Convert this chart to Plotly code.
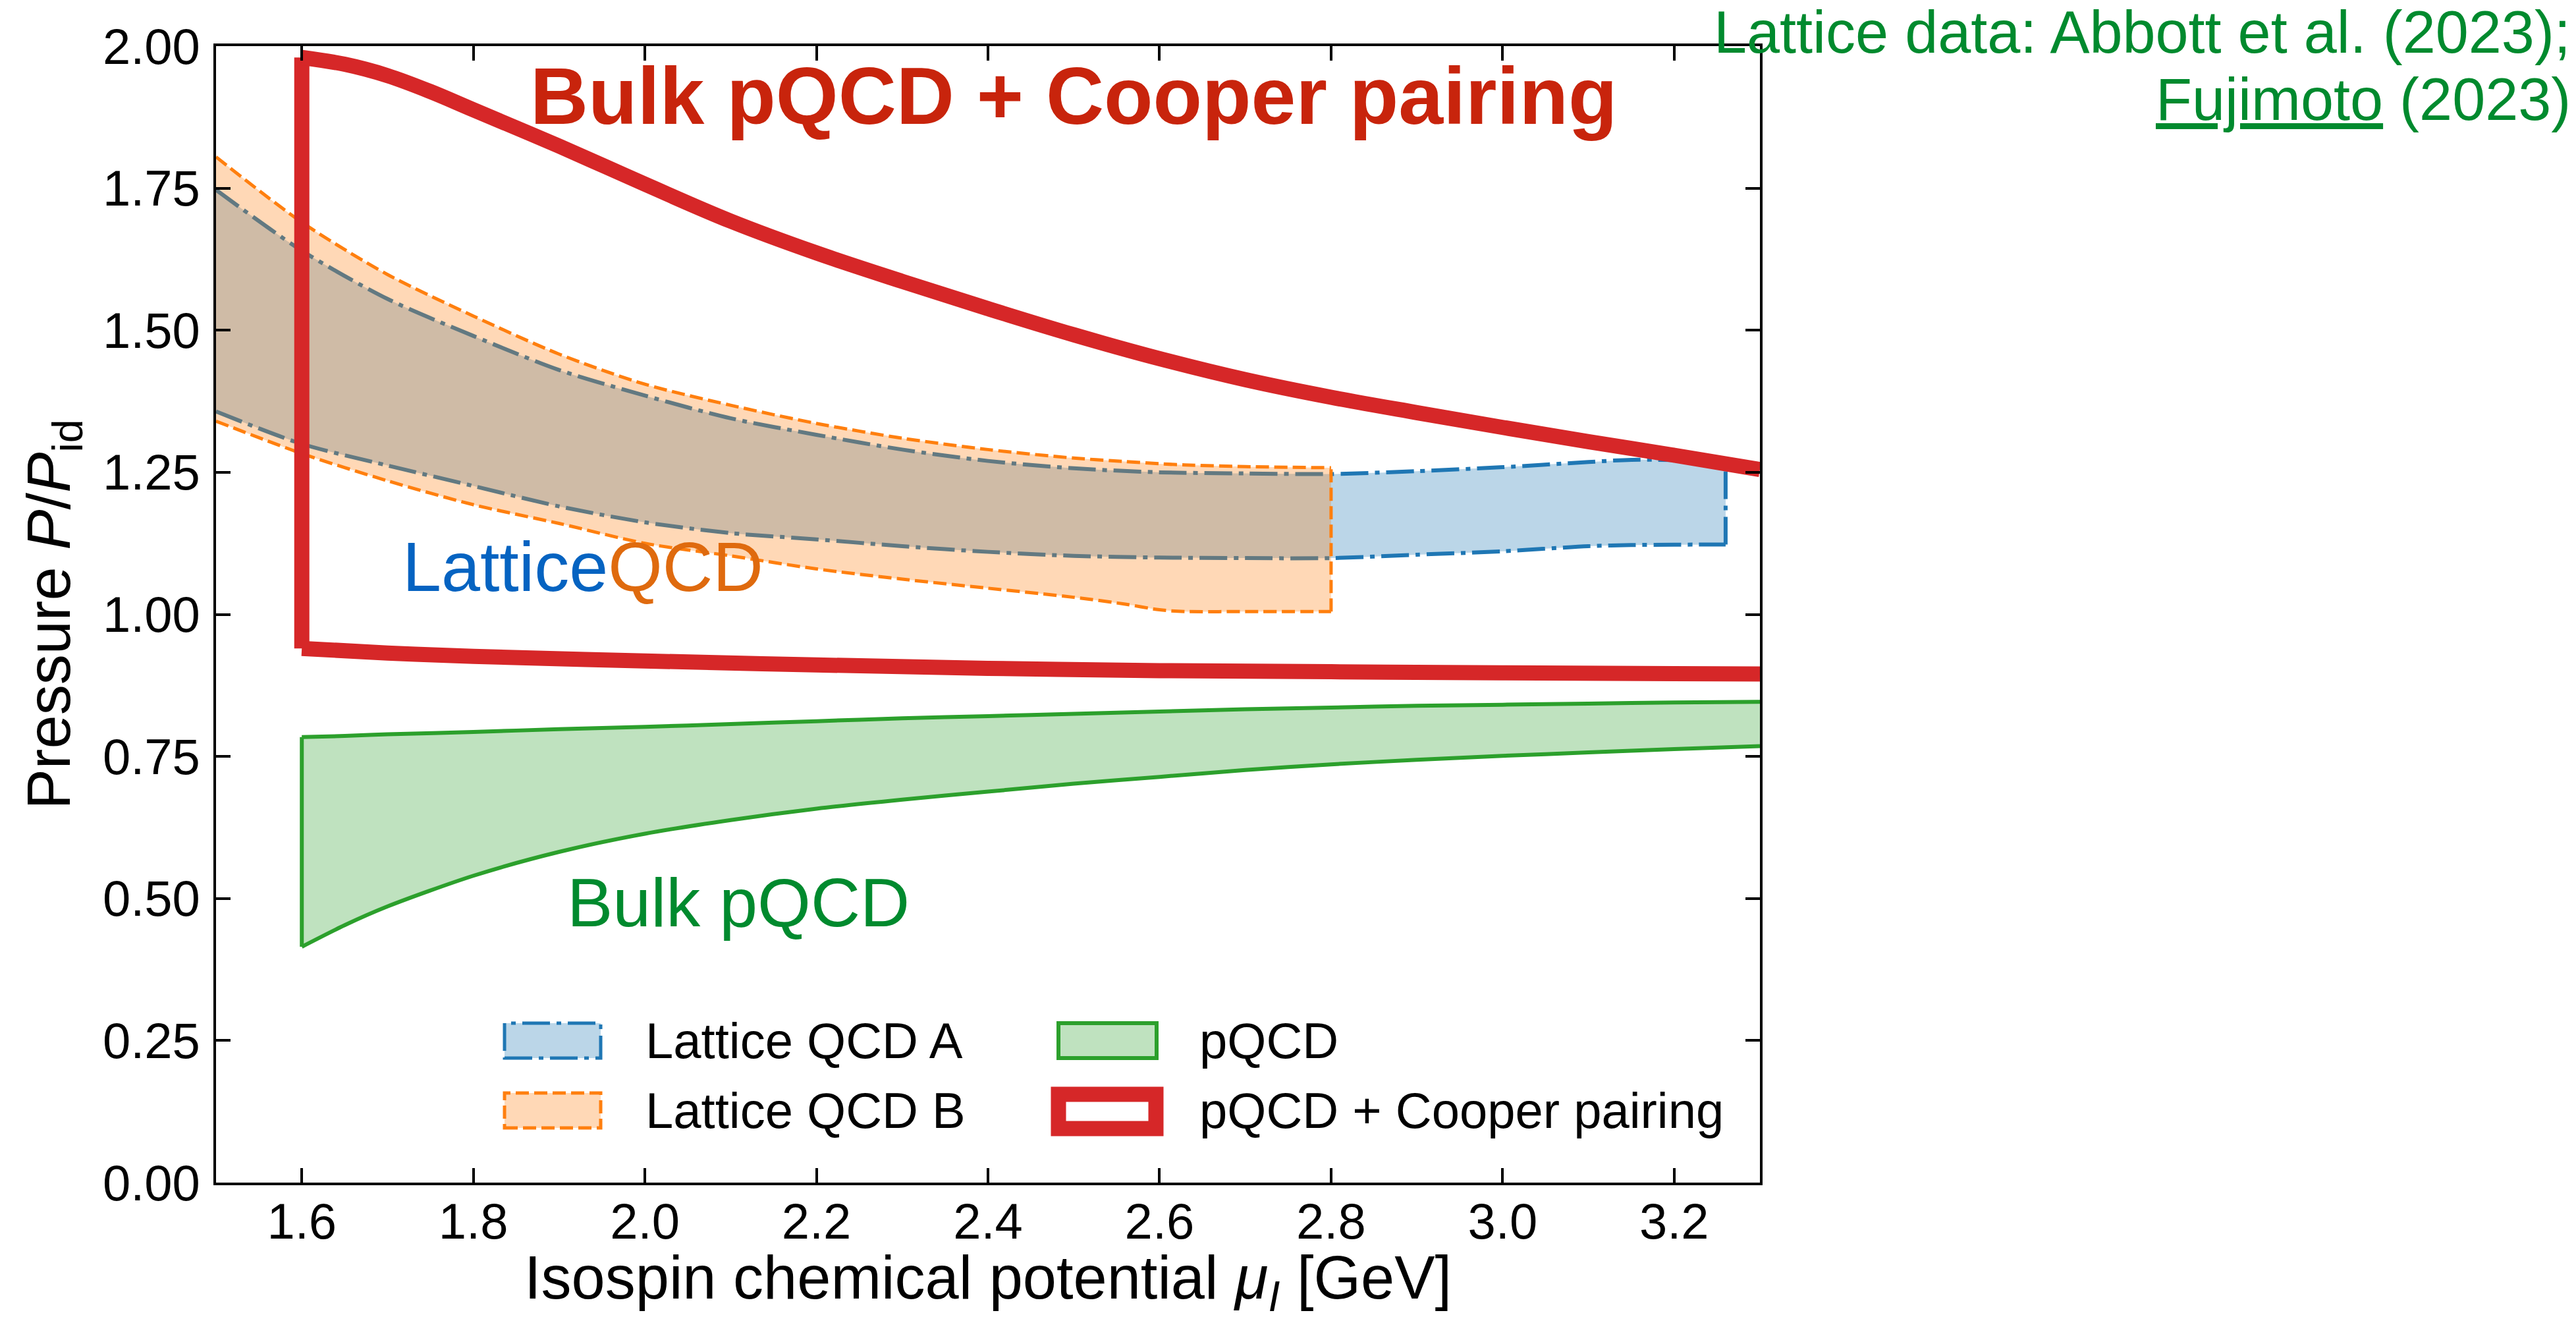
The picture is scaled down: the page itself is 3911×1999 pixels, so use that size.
import plotly.graph_objects as go

# ---------------- data ----------------
lat_a_x = [1.5, 1.6, 1.7, 1.8, 1.9, 2.0, 2.1, 2.2, 2.3, 2.4, 2.5, 2.6, 2.7, 2.8, 2.9, 3.0, 3.1, 3.15, 3.26]
lat_a_upper = [1.747, 1.64, 1.555, 1.49, 1.43, 1.385, 1.345, 1.316, 1.29, 1.27, 1.257, 1.25, 1.248, 1.247,
               1.252, 1.259, 1.268, 1.272, 1.27]
lat_a_lower = [1.357, 1.30, 1.262, 1.226, 1.19, 1.162, 1.143, 1.132, 1.12, 1.11, 1.103, 1.10, 1.099, 1.099,
               1.105, 1.111, 1.12, 1.122, 1.123]

lat_b_x = [1.5, 1.6, 1.7, 1.8, 1.9, 2.0, 2.1, 2.2, 2.3, 2.4, 2.5, 2.56, 2.6, 2.63, 2.7, 2.8]
lat_b_upper = [1.805, 1.69, 1.598, 1.525, 1.458, 1.405, 1.368, 1.336, 1.31, 1.29, 1.275, 1.269, 1.265, 1.263,
               1.26, 1.258]
lat_b_lower = [1.34, 1.283, 1.235, 1.193, 1.16, 1.125, 1.103, 1.08, 1.062, 1.046, 1.03, 1.018, 1.008, 1.005,
               1.005, 1.005]

pqcd_x = [1.6, 1.65, 1.7, 1.8, 1.9, 2.0, 2.1, 2.2, 2.3, 2.4, 2.5, 2.6, 2.7, 2.8, 2.9, 3.0, 3.1, 3.2, 3.3]
pqcd_upper = [0.784, 0.786, 0.789, 0.793, 0.798, 0.802, 0.807, 0.812, 0.817, 0.821, 0.825, 0.829, 0.833, 0.836,
              0.839, 0.841, 0.843, 0.845, 0.846]
pqcd_lower = [0.415, 0.453, 0.486, 0.54, 0.582, 0.614, 0.638, 0.658, 0.674, 0.688, 0.702, 0.714, 0.726, 0.736,
              0.744, 0.751, 0.757, 0.763, 0.768]

cp_top_x = [1.6, 1.65, 1.7, 1.75, 1.8, 1.9, 2.0, 2.1, 2.2, 2.3, 2.4, 2.5, 2.6, 2.7, 2.8, 2.9, 3.0, 3.1, 3.2, 3.3]
cp_top = [1.98, 1.968, 1.948, 1.92, 1.888, 1.824, 1.757, 1.692, 1.636, 1.586, 1.538, 1.492, 1.45, 1.413, 1.382,
          1.355, 1.329, 1.304, 1.28, 1.255]
cp_bot_x = [1.6, 1.7, 1.8, 2.0, 2.2, 2.4, 2.6, 2.8, 3.0, 3.3]
cp_bot = [0.940, 0.932, 0.926, 0.918, 0.911, 0.905, 0.901, 0.899, 0.897, 0.895]

x_ticks = [1.6, 1.8, 2.0, 2.2, 2.4, 2.6, 2.8, 3.0, 3.2]
y_ticks = [0.0, 0.25, 0.5, 0.75, 1.0, 1.25, 1.5, 1.75, 2.0]

# ---------------- layout geometry ----------------
W, H = 3911, 1999
ML, MR, MT, MB = 328, 1239, 70, 204
PW = W - ML - MR
PH = H - MT - MB
FONT = "Liberation Sans, Arial, sans-serif"


def pxx(px):
    return (px - ML) / PW


def pxy(py):
    return (H - MB - py) / PH


BLUE = "#1f77b4"
ORANGE = "#ff7f0e"
GREEN = "#2ca02c"
RED = "#d62728"
DASHDOT = "42px,10px,7px,10px"
DASHED = "20px,8px"

fig = go.Figure()


def add_band(xs, up, lo, color, fill, width, dash, right_edge=False, left_edge=False):
    line = dict(color=color, width=width, dash=dash, shape="spline", smoothing=0.8)
    fig.add_trace(go.Scatter(x=xs, y=lo, mode="lines", line=line, showlegend=False, hoverinfo="skip"))
    fig.add_trace(go.Scatter(x=xs, y=up, mode="lines", line=line, fill="tonexty", fillcolor=fill,
                             showlegend=False, hoverinfo="skip"))
    edge = dict(color=color, width=width, dash=dash)
    if right_edge:
        fig.add_trace(go.Scatter(x=[xs[-1], xs[-1]], y=[lo[-1], up[-1]], mode="lines", line=edge,
                                 showlegend=False, hoverinfo="skip"))
    if left_edge:
        fig.add_trace(go.Scatter(x=[xs[0], xs[0]], y=[lo[0], up[0]], mode="lines", line=edge,
                                 showlegend=False, hoverinfo="skip"))


add_band(lat_a_x, lat_a_upper, lat_a_lower, BLUE, "rgba(31,119,180,0.3)", 6, DASHDOT, right_edge=True)
add_band(lat_b_x, lat_b_upper, lat_b_lower, ORANGE, "rgba(255,127,14,0.3)", 5, DASHED, right_edge=True)
add_band(pqcd_x, pqcd_upper, pqcd_lower, GREEN, "rgba(44,160,44,0.3)", 6, "solid", left_edge=True)

# Cooper pairing outline: bottom curve, left vertical edge, top curve
red_curve = dict(color=RED, width=23, shape="spline", smoothing=1.0)
fig.add_trace(go.Scatter(x=cp_bot_x, y=cp_bot, mode="lines", line=red_curve, showlegend=False,
                         hoverinfo="skip"))
fig.add_trace(go.Scatter(x=[cp_top_x[0], cp_top_x[0]], y=[cp_bot[0], cp_top[0]], mode="lines",
                         line=dict(color=RED, width=23), showlegend=False, hoverinfo="skip"))
fig.add_trace(go.Scatter(x=cp_top_x, y=cp_top, mode="lines", line=red_curve, showlegend=False,
                         hoverinfo="skip"))

axis_common = dict(showline=True, linecolor="black", linewidth=4, mirror="ticks", ticks="inside",
                   ticklen=22, tickwidth=4, tickcolor="black", showgrid=False, zeroline=False,
                   tickfont=dict(family=FONT, size=76, color="black"))

fig.update_xaxes(range=[1.5, 3.3], tickvals=x_ticks, ticktext=[f"{v:.1f}" for v in x_ticks],
                 ticklabelstandoff=-10, **axis_common)
fig.update_yaxes(range=[0, 2.0], tickvals=y_ticks, ticktext=[f"{v:.2f}" for v in y_ticks],
                 ticklabelstandoff=5, **axis_common)

ann = []
# axis titles
ann.append(dict(x=0.5, y=pxy(1946), xref="paper", yref="paper", xanchor="center", yanchor="middle",
                text="Isospin chemical potential <i>μ<sub>I</sub></i> [GeV]", showarrow=False,
                font=dict(family=FONT, size=92, color="black")))
ann.append(dict(x=pxx(80), y=0.5, xref="paper", yref="paper", xanchor="center", yanchor="middle",
                textangle=-90, text="Pressure <i>P</i>/<i>P</i><sub>id</sub>", showarrow=False,
                font=dict(family=FONT, size=92, color="black")))
# in-plot labels
ann.append(dict(x=pxx(1630), y=pxy(146), xref="paper", yref="paper", xanchor="center", yanchor="middle",
                text="<b>Bulk pQCD + Cooper pairing</b>", showarrow=False,
                font=dict(family=FONT, size=122, color="#c8240c")))
ann.append(dict(x=pxx(885), y=pxy(860), xref="paper", yref="paper", xanchor="center", yanchor="middle",
                text="<span style='color:#0563c1'>Lattice</span><span style='color:#df6a0e'>QCD</span>",
                showarrow=False, font=dict(family=FONT, size=106, color="#0563c1")))
ann.append(dict(x=pxx(1121), y=pxy(1370), xref="paper", yref="paper", xanchor="center", yanchor="middle",
                text="Bulk pQCD", showarrow=False, font=dict(family=FONT, size=104, color="#008a2e")))
# source note (top right)
ann.append(dict(x=pxx(3905), y=pxy(49), xref="paper", yref="paper", xanchor="right", yanchor="middle",
                text="Lattice data: Abbott et al. (2023);", showarrow=False,
                font=dict(family=FONT, size=90, color="#008a2e")))
ann.append(dict(x=pxx(3905), y=pxy(151), xref="paper", yref="paper", xanchor="right", yanchor="middle",
                text="<u>Fujimoto</u> (2023)", showarrow=False,
                font=dict(family=FONT, size=90, color="#008a2e")))

# legend (manual)
legend_items = [
    ("Lattice QCD A", 766, 912, 1553, 1606, BLUE, 5, DASHDOT, "rgba(31,119,180,0.3)", 978, 1579),
    ("Lattice QCD B", 766, 912, 1659, 1712, ORANGE, 5, DASHED, "rgba(255,127,14,0.3)", 978, 1685),
    ("pQCD", 1607, 1756, 1553, 1606, GREEN, 6, "solid", "rgba(44,160,44,0.3)", 1819, 1579),
    ("pQCD + Cooper pairing", 1607, 1755, 1661, 1713, RED, 23, "solid", "white", 1819, 1685),
]
shapes = []
for name, x0, x1, y0, y1, col, lw, dash, fc, tx, ty in legend_items:
    shapes.append(dict(type="rect", xref="paper", yref="paper", x0=pxx(x0), x1=pxx(x1), y0=pxy(y1),
                       y1=pxy(y0), line=dict(color=col, width=lw, dash=dash), fillcolor=fc))
    ann.append(dict(x=pxx(tx), y=pxy(ty), xref="paper", yref="paper", xanchor="left", yanchor="middle",
                    text=name, showarrow=False, font=dict(family=FONT, size=76, color="black")))

fig.update_layout(width=W, height=H, margin=dict(l=ML, r=MR, t=MT, b=MB, autoexpand=False),
                  paper_bgcolor="white", plot_bgcolor="white", showlegend=False,
                  annotations=ann, shapes=shapes, font=dict(family=FONT))

fig.write_html("out.html")
